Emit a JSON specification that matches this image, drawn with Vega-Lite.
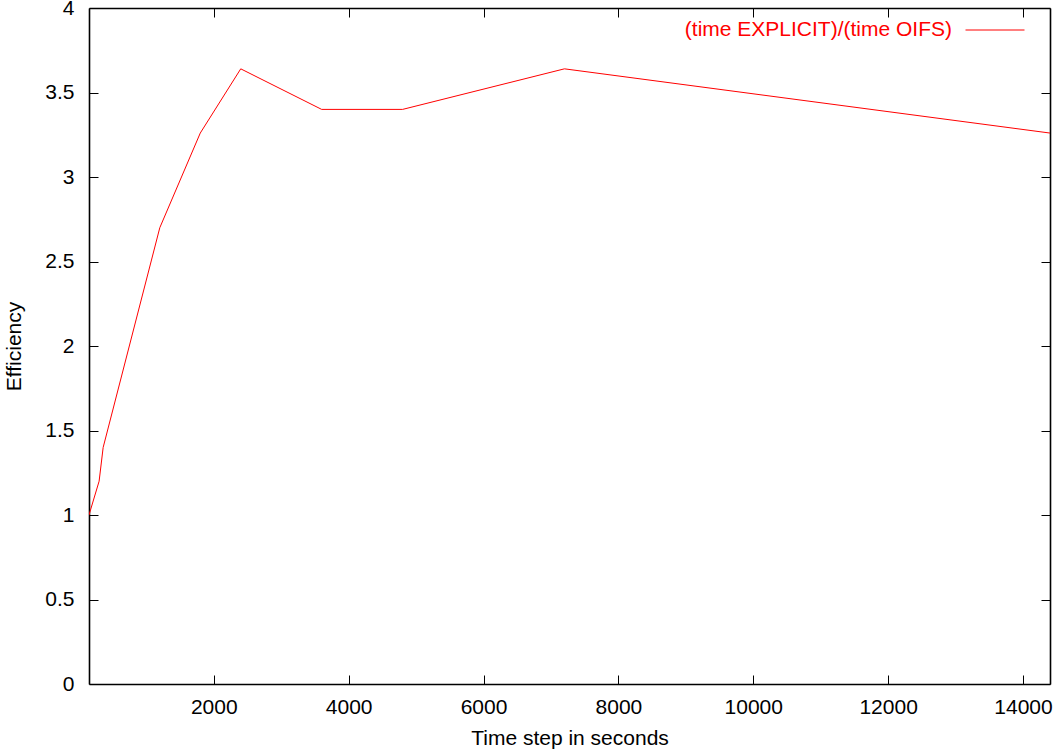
{
  "$schema": "https://vega.github.io/schema/vega-lite/v6.json",
  "width": 961,
  "height": 676,
  "autosize": {"type": "none"},
  "padding": {"left": 89, "top": 8, "right": 5, "bottom": 69},
  "background": "white",
  "config": {
    "view": {"stroke": null},
    "font": "Liberation Sans",
    "axis": {
      "grid": false,
      "domainColor": "black",
      "domainWidth": 1.6,
      "tickColor": "black",
      "tickWidth": 1,
      "tickSize": -9,
      "labelFont": "Liberation Sans",
      "labelFontSize": 21,
      "labelColor": "black",
      "titleFont": "Liberation Sans",
      "titleFontSize": 21,
      "titleFontWeight": "normal",
      "titleColor": "black"
    }
  },
  "data": {
    "values": [
      {"step": 150, "eff": 1.0, "series": "(time EXPLICIT)/(time OIFS)"},
      {"step": 300, "eff": 1.2, "series": "(time EXPLICIT)/(time OIFS)"},
      {"step": 360, "eff": 1.4, "series": "(time EXPLICIT)/(time OIFS)"},
      {"step": 1200, "eff": 2.7, "series": "(time EXPLICIT)/(time OIFS)"},
      {"step": 1800, "eff": 3.26, "series": "(time EXPLICIT)/(time OIFS)"},
      {"step": 2400, "eff": 3.64, "series": "(time EXPLICIT)/(time OIFS)"},
      {"step": 3600, "eff": 3.4, "series": "(time EXPLICIT)/(time OIFS)"},
      {"step": 4800, "eff": 3.4, "series": "(time EXPLICIT)/(time OIFS)"},
      {"step": 7200, "eff": 3.64, "series": "(time EXPLICIT)/(time OIFS)"},
      {"step": 14400, "eff": 3.26, "series": "(time EXPLICIT)/(time OIFS)"}
    ]
  },
  "layer": [
    {
      "mark": {"type": "line", "strokeWidth": 1, "clip": true},
      "encoding": {
        "x": {
          "field": "step", "type": "quantitative",
          "scale": {"domain": [150, 14400], "nice": false, "zero": false},
          "axis": {"orient": "bottom", "title": "Time step in seconds", "values": [2000, 4000, 6000, 8000, 10000, 12000, 14000], "labelPadding": 21, "titlePadding": 10, "format": "d"}
        },
        "y": {
          "field": "eff", "type": "quantitative",
          "scale": {"domain": [0, 4], "nice": false},
          "axis": {"orient": "left", "title": "Efficiency", "values": [0, 0.5, 1, 1.5, 2, 2.5, 3, 3.5, 4], "format": ".1~f", "labelPadding": 24, "titlePadding": 20}
        },
        "color": {
          "field": "series", "type": "nominal",
          "scale": {"range": ["#ff0000"]},
          "legend": {
            "title": null,
            "orient": "none",
            "legendX": 876,
            "legendY": -8,
            "padding": 0,
            "symbolType": "stroke",
            "symbolSize": 3481,
            "symbolStrokeWidth": 1,
            "labelAlign": "right",
            "labelOffset": -73,
            "labelFontSize": 21,
            "labelColor": "#ff0000",
            "labelFont": "Liberation Sans",
            "labelLimit": 0
          }
        }
      }
    },
    {
      "mark": {"type": "line", "opacity": 0},
      "encoding": {
        "x": {
          "field": "step", "type": "quantitative",
          "scale": {"domain": [150, 14400], "nice": false, "zero": false},
          "axis": {"orient": "top", "title": null, "labels": false, "values": [2000, 4000, 6000, 8000, 10000, 12000, 14000]}
        },
        "y": {
          "field": "eff", "type": "quantitative",
          "scale": {"domain": [0, 4], "nice": false},
          "axis": {"orient": "right", "title": null, "labels": false, "values": [0, 0.5, 1, 1.5, 2, 2.5, 3, 3.5, 4]}
        }
      }
    }
  ],
  "resolve": {"axis": {"x": "independent", "y": "independent"}}
}
